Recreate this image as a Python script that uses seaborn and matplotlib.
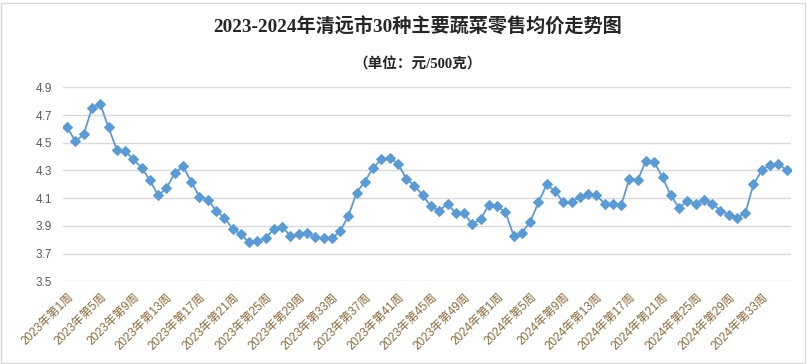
"""
清远市30种主要蔬菜零售均价走势图 (2023-2024)
"""

import pandas as pd
import seaborn as sns
import matplotlib.pyplot as plt
from matplotlib.patches import Rectangle

# weekly average prices, yuan per 500g
prices_2023 = [
    4.61, 4.51, 4.56, 4.75, 4.78, 4.61, 4.45, 4.44, 4.38, 4.32,
    4.23, 4.12, 4.17, 4.28, 4.33, 4.22, 4.11, 4.09, 4.01, 3.96,
    3.88, 3.84, 3.78, 3.79, 3.81, 3.88, 3.89, 3.83, 3.84, 3.85,
    3.82, 3.81, 3.81, 3.86, 3.97, 4.14, 4.22, 4.32, 4.38, 4.39,
    4.35, 4.24, 4.19, 4.12, 4.04, 4.01, 4.06, 3.99, 3.99, 3.91,
    3.95, 4.05,
]
prices_2024 = [
    4.04, 4.00, 3.83, 3.85, 3.93, 4.07, 4.20, 4.15, 4.07, 4.07,
    4.11, 4.13, 4.12, 4.06, 4.06, 4.05, 4.24, 4.23, 4.37, 4.36,
    4.25, 4.12, 4.03, 4.08, 4.06, 4.09, 4.06, 4.01, 3.98, 3.96,
    3.99, 4.20, 4.30, 4.34, 4.35, 4.30,
]

weeks_2023 = list(range(1, len(prices_2023) + 1))
weeks_2024 = list(range(1, len(prices_2024) + 1))
labels = [f"2023年第{w}周" for w in weeks_2023] + [f"2024年第{w}周" for w in weeks_2024]

df = pd.DataFrame({"idx": range(len(labels)),
                   "week": labels,
                   "price": prices_2023 + prices_2024})

sns.set_style("white")
plt.rcParams["font.family"] = ["Liberation Sans", "Noto Sans CJK SC", "DejaVu Sans"]

fig = plt.figure(figsize=(8.07, 3.64), dpi=100)
ax = fig.add_axes([0.0781, 0.2272, 0.9017, 0.5330])

# chart frame like the excel chart area
fig.patches.append(Rectangle((1 / 807, 1 / 364), 804 / 807, 360 / 364,
                             transform=fig.transFigure, fill=False,
                             edgecolor="#d9d9d9", linewidth=1.0))

sns.lineplot(data=df, x="idx", y="price", ax=ax, color="#5b9bd5",
             linewidth=1.3, marker="D", markersize=5,
             markeredgecolor="#5b9bd5", markerfacecolor="#5b9bd5")

ax.set_xlim(-0.5, len(labels) - 0.5)
ax.set_ylim(3.5, 4.9)
ax.set_yticks([3.5, 3.7, 3.9, 4.1, 4.3, 4.5, 4.7, 4.9])
ax.set_yticklabels(["3.5", "3.7", "3.9", "4.1", "4.3", "4.5", "4.7", "4.9"])
ax.yaxis.grid(True, color="#d9d9d9", linewidth=1.0)
ax.set_axisbelow(True)

tick_pos = df["idx"][::4]
ax.set_xticks(tick_pos)
ax.set_xticklabels(df["week"][::4], rotation=45, ha="right",
                   rotation_mode="anchor", color="#8a6a3a", fontsize=8.5)
ax.tick_params(axis="x", length=0, pad=7)
ax.tick_params(axis="y", length=0, pad=8, labelcolor="#595959", labelsize=8.5)

for s in ax.spines.values():
    s.set_visible(False)
ax.set_xlabel("")
ax.set_ylabel("")

fig.text(0.518, 1 - 27.5 / 364, "2023-2024年清远市30种主要蔬菜零售均价走势图",
         ha="center", va="center", fontsize=13.8, fontweight="bold", color="#262626",
         family=["Liberation Serif", "Noto Sans CJK SC"])
fig.text(0.518, 1 - 64.5 / 364, "（单位：元/500克）",
         ha="center", va="center", fontsize=10.5, fontweight="bold", color="#262626",
         family=["Liberation Serif", "Noto Sans CJK SC"])

plt.savefig("out.png", dpi=100)
